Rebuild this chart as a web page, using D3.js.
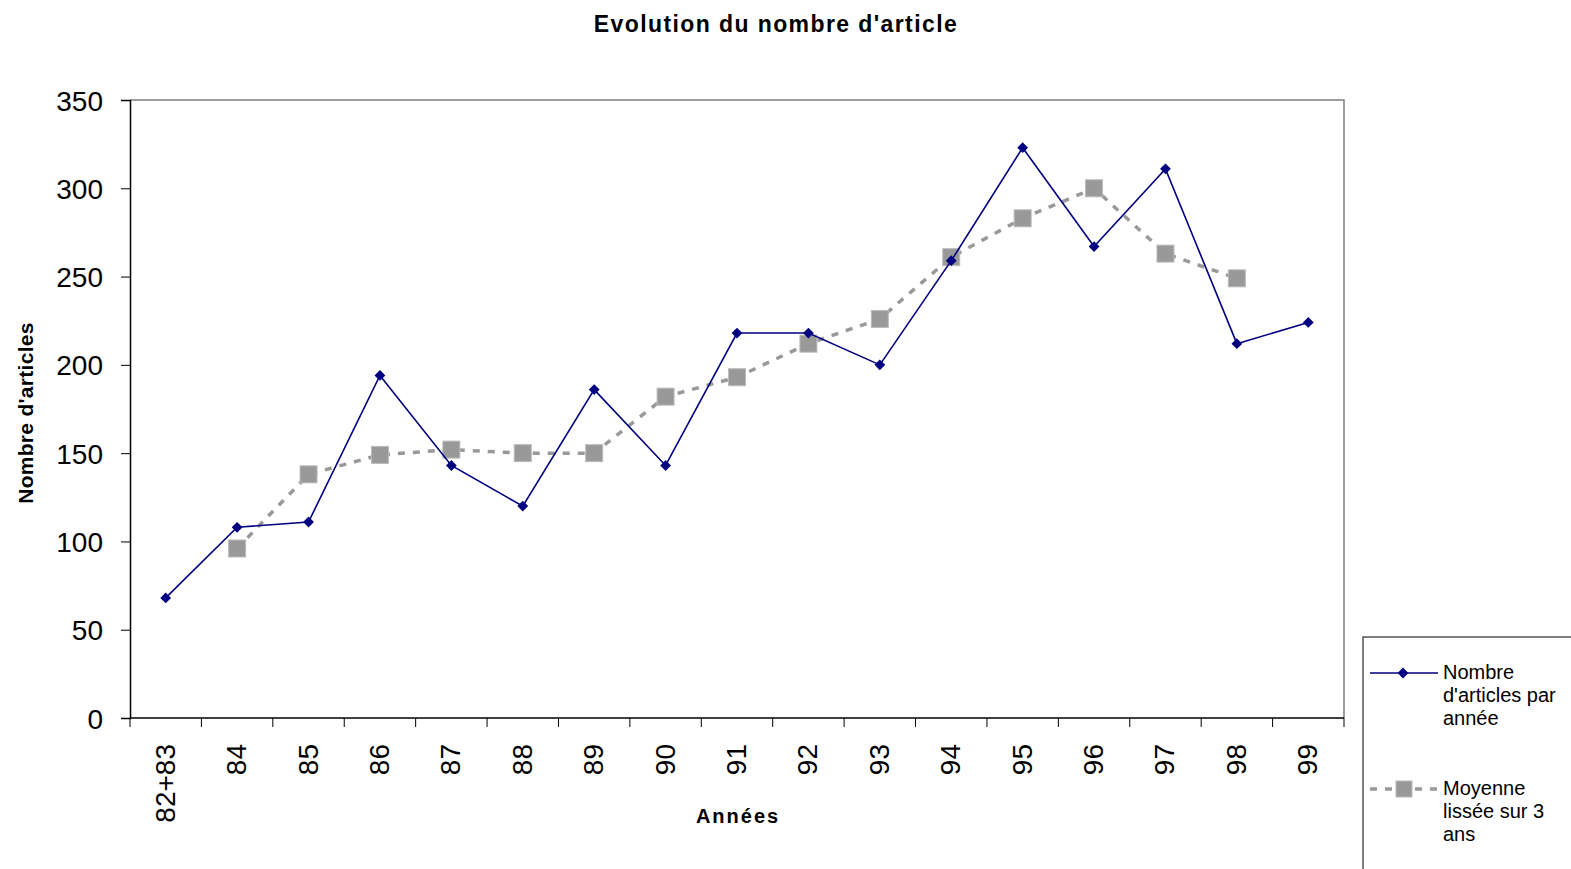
<!DOCTYPE html>
<html><head><meta charset="utf-8">
<script src="https://cdn.jsdelivr.net/npm/d3@7"></script>
<style>body{margin:0;background:#fff;font-family:"Liberation Sans",Arial,sans-serif}</style>
</head><body><svg id="c" width="1571" height="869"></svg>
<script>
const categories = ["82+83","84","85","86","87","88","89","90","91","92","93","94","95","96","97","98","99"];
const articles = [68,108,111,194,143,120,186,143,218,218,200,259,323,267,311,212,224];
const movingAvg = [null,96,138,149,152,150,150,182,193,212,226,261,283,300,263,249,null];
const yTicks = [0,50,100,150,200,250,300,350];

const svg = d3.select("#c");
const L=130, R=1344, T=100, B=718;
const x = d3.scaleBand().domain(categories).range([L,R]);
const y = d3.scaleLinear().domain([0,350]).range([B,T]);
const cx = d => x(d)+x.bandwidth()/2;

// frame top/right
svg.append("path").attr("d",`M${L},${T}H${R}V${B}`).attr("fill","none").attr("stroke","#808080").attr("stroke-width",1.5);

// y axis
const ya = svg.append("g").attr("transform",`translate(${L},0)`).call(d3.axisLeft(y).tickValues(yTicks).tickSize(9).tickPadding(18));
ya.select(".domain").attr("stroke","#000").attr("stroke-width",1.5);
ya.selectAll(".tick line").attr("stroke","#000");
ya.selectAll("text").attr("font-size",28).attr("font-family","Liberation Sans, Arial").attr("fill","#000").attr("dy","0.36em");

// x axis
const xa = svg.append("g").attr("transform",`translate(0,${B})`);
xa.append("line").attr("x1",L).attr("x2",R).attr("stroke","#000").attr("stroke-width",1.5);
categories.forEach(c=>{
  xa.append("line").attr("x1",x(c)).attr("x2",x(c)).attr("y1",0).attr("y2",9).attr("stroke","#000");
});
xa.append("line").attr("x1",R).attr("x2",R).attr("y1",0).attr("y2",9).attr("stroke","#000");
categories.forEach(c=>{
  xa.append("text").attr("transform",`translate(${cx(c)+9},${26}) rotate(-90)`)
    .attr("text-anchor","end").attr("font-size",28).attr("fill","#000").text(c);
});

// moving avg
const lineAvg = d3.line().defined(d=>d[1]!=null).x(d=>cx(d[0])).y(d=>y(d[1]));
const avgData = categories.map((c,i)=>[c,movingAvg[i]]);
svg.append("path").attr("d",lineAvg(avgData)).attr("fill","none").attr("stroke","#999").attr("stroke-width",3.5).attr("stroke-dasharray","7,8");
svg.selectAll(".sq").data(avgData.filter(d=>d[1]!=null)).enter().append("rect")
  .attr("x",d=>cx(d[0])-8.5).attr("y",d=>y(d[1])-8.5).attr("width",17).attr("height",17)
  .attr("fill","#999").attr("stroke","#bbb").attr("stroke-width",1);

// articles
const artData = categories.map((c,i)=>[c,articles[i]]);
const lineA = d3.line().x(d=>cx(d[0])).y(d=>y(d[1]));
svg.append("path").attr("d",lineA(artData)).attr("fill","none").attr("stroke","#000080").attr("stroke-width",1.6);
const diamond = d3.symbol(d3.symbolSquare,58);
svg.selectAll(".dm").data(artData).enter().append("path")
  .attr("d",diamond).attr("transform",d=>`translate(${cx(d[0])},${y(d[1])}) rotate(45)`).attr("fill","#000080");

// titles
svg.append("text").attr("x",776).attr("y",32).attr("text-anchor","middle").attr("font-weight","bold").attr("font-size",23).attr("letter-spacing",1.4).text("Evolution du nombre d'article");
svg.append("text").attr("x",738).attr("y",823).attr("text-anchor","middle").attr("font-weight","bold").attr("font-size",20).attr("letter-spacing",2).text("Années");
svg.append("text").attr("transform","translate(33,413) rotate(-90)").attr("text-anchor","middle").attr("font-weight","bold").attr("font-size",21).attr("letter-spacing",0.3).text("Nombre d'articles");

// legend
const lg = svg.append("g");
lg.append("rect").attr("x",1363).attr("y",637).attr("width",240).attr("height",260).attr("fill","#fff").attr("stroke","#000").attr("stroke-width",1);
lg.append("line").attr("x1",1370).attr("x2",1438).attr("y1",673).attr("y2",673).attr("stroke","#000080").attr("stroke-width",1.6);
lg.append("path").attr("d",diamond).attr("transform","translate(1403,673) rotate(45)").attr("fill","#000080");
lg.append("line").attr("x1",1370).attr("x2",1438).attr("y1",789).attr("y2",789).attr("stroke","#999").attr("stroke-width",3.5).attr("stroke-dasharray","7,8");
lg.append("rect").attr("x",1396).attr("y",781).attr("width",16).attr("height",16).attr("fill","#999").attr("stroke","#bbb");
const lt1=["Nombre","d'articles par","année"], lt2=["Moyenne","lissée sur 3","ans"];
lt1.forEach((t,i)=>lg.append("text").attr("x",1443).attr("y",679+i*23).attr("font-size",20).text(t));
lt2.forEach((t,i)=>lg.append("text").attr("x",1443).attr("y",795+i*23).attr("font-size",20).text(t));
</script></body></html>
